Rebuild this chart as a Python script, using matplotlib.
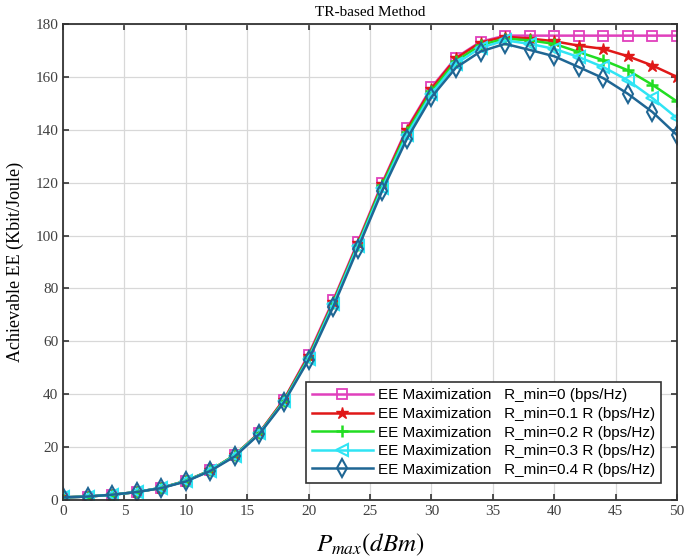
import matplotlib.pyplot as plt

# Data
p_max = [0, 2, 4, 6, 8, 10, 12, 14, 16, 18, 20, 22, 24, 26, 28, 30, 32, 34, 36, 38, 40, 42, 44, 46, 48, 50]

ee_r0 = [1, 1.3, 2, 3, 4.6, 7.2, 11.2, 17, 25.5, 38, 55, 75.5, 97.5, 120, 140.5, 156, 167.3, 173.3, 175.6,
         175.6, 175.6, 175.6, 175.6, 175.6, 175.6, 175.6]
ee_r01 = [1, 1.3, 2, 3, 4.6, 7.2, 11.2, 17, 25.5, 38, 54.5, 75, 97, 119.5, 140, 155.5, 167, 173, 175.2,
          174.5, 173.5, 171.8, 170.6, 167.8, 164.3, 160]
ee_r02 = [1, 1.3, 2, 3, 4.6, 7.2, 11.2, 17, 25.3, 37.6, 54, 74.5, 96.5, 119, 139, 154.5, 166, 172, 174.5,
          173.8, 172.5, 169.4, 166.3, 162.5, 157, 150.7]
ee_r03 = [1, 1.3, 2, 3, 4.6, 7.1, 11.1, 16.8, 25.2, 37.3, 53.5, 74, 96, 118, 138, 153.5, 165, 171, 173.8,
          172.5, 170.6, 167.5, 163.7, 158.7, 152, 144.4]
ee_r04 = [1, 1.3, 2, 3, 4.5, 7, 11, 16.5, 25, 37, 53, 73, 95, 117, 136.5, 152.3, 163.5, 169.6, 172.5,
          170.2, 167.8, 163.7, 159.5, 153.6, 146.7, 138]

labels = [
    "EE Maximization   R_min=0 (bps/Hz)",
    "EE Maximization   R_min=0.1 R (bps/Hz)",
    "EE Maximization   R_min=0.2 R (bps/Hz)",
    "EE Maximization   R_min=0.3 R (bps/Hz)",
    "EE Maximization   R_min=0.4 R (bps/Hz)",
]

plt.rcParams["mathtext.fontset"] = "stix"

fig = plt.figure(figsize=(6.85, 5.59), dpi=100)
ax = fig.add_axes([63 / 685, 59 / 559, 614 / 685, 476 / 559])

ax.plot(p_max, ee_r0, color="#e040bc", marker="s", markersize=7, markerfacecolor="none",
        markeredgewidth=1.3, linewidth=1.8, label=labels[0])
ax.plot(p_max, ee_r01, color="#e01818", marker="*", markersize=9, linewidth=1.8, label=labels[1])
ax.plot(p_max, ee_r02, color="#22dd22", marker="+", markersize=9, markeredgewidth=1.8,
        linewidth=1.8, label=labels[2])
ax.plot(p_max, ee_r03, color="#30e4f4", marker="<", markersize=8, markerfacecolor="none",
        markeredgewidth=1.5, linewidth=1.8, label=labels[3])
ax.plot(p_max, ee_r04, color="#1f6694", marker="d", markersize=9, markerfacecolor="none",
        markeredgewidth=1.5, linewidth=1.8, label=labels[4])

ax.set_xlim(0, 50)
ax.set_ylim(0, 180)
ax.set_xticks(range(0, 51, 5))
ax.set_yticks(range(0, 181, 20))

ax.grid(True, color="#d8d8d8", linewidth=0.9)
ax.tick_params(direction="in", top=True, right=True, length=4, width=1.2, colors="#333333",
               labelsize=11, labelcolor="#404040")
for lbl in ax.get_xticklabels() + ax.get_yticklabels():
    lbl.set_family("Liberation Serif")
for s in ax.spines.values():
    s.set_color("#333333")
    s.set_linewidth(1.3)

ax.set_title("TR-based Method", family="Liberation Serif", fontsize=11, pad=6)
ax.set_ylabel("Achievable EE (Kbit/Joule)", family="Liberation Serif", fontsize=13, labelpad=8)
ax.set_xlabel("$P_{max}(dBm)$", fontsize=18, labelpad=10)

leg = ax.legend(loc="lower right", bbox_to_anchor=(0.987, 0.02), fancybox=False, framealpha=1,
                edgecolor="#333333", prop={"family": "Liberation Sans", "size": 11},
                handlelength=4.0, labelspacing=0.3, borderpad=0.4, handletextpad=0.35)
leg.get_frame().set_linewidth(1.2)

plt.savefig("out.png")
